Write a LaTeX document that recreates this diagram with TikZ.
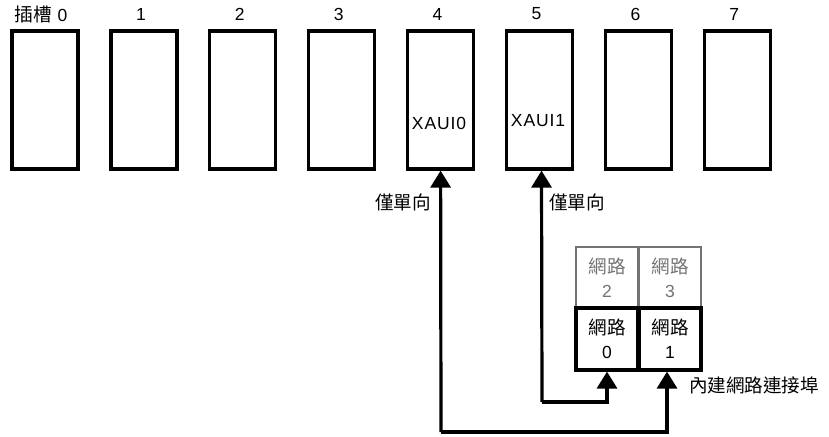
\documentclass[tikz,border=0pt]{standalone}
\usepackage{fontspec}
\setmainfont{Liberation Sans}[LetterSpace=5]
\newfontfamily\cjk[Scale=1.06]{Noto Sans CJK TC}
\usetikzlibrary{arrows.meta}
\begin{document}
\begin{tikzpicture}[x=1pt,y=-1pt,
  every node/.style={font=\fontsize{17.5}{24}\selectfont, inner sep=0pt},
  slotbox/.style={draw, line width=3.2pt, minimum width=66pt, minimum height=138pt},
  graycell/.style={draw=black!55, line width=2.2pt, text=black!55, minimum width=62pt, minimum height=61pt, align=center},
  blackcell/.style={draw, line width=3.2pt, minimum width=62pt, minimum height=62pt, align=center},
  arr/.style={line width=3.2pt, -{Triangle[width=20pt,length=17pt]}}]
\useasboundingbox (0,0) rectangle (829,436);
% slots
\foreach \i in {0,...,7} {
  \node[slotbox] (slot\i) at ({45+98.9*\i},100) {};
}
\node (l0) at (41,14) {{\cjk 插槽} 0};
\foreach \i in {1,...,7} {
  \node (l\i) at ({42+98.9*\i},14) {\i};
}
\node (x0) at (439,123) {XAUI0};
\node (x1) at (538,121) {XAUI1};
% network port block
\node[graycell] (n2) at (607,277.5) {{\cjk 網路}\\2};
\node[graycell] (n3) at (670,277.5) {{\cjk 網路}\\3};
\node[blackcell] (n0) at (607,339) {{\cjk 網路}\\0};
\node[blackcell] (n1) at (670,339) {{\cjk 網路}\\1};
% labels
\node (u0) at (403,202) {\cjk 僅單向};
\node (u1) at (577,202) {\cjk 僅單向};
\node (port) at (754,385) {\cjk 內建網路連接埠};
% connectors
\coordinate (c1) at (441,432);
\coordinate (c2) at (667,432);
\coordinate (c3) at (542,402);
\coordinate (c4) at (607,402);
\draw[arr] (c1) -- (slot4.south);
\draw[arr] (c1) -- (c2) -- ([xshift=-3pt]n1.south);
\draw[arr] (c3) -- ([xshift=2pt]slot5.south);
\draw[arr] (c3) -- (c4) -- (n0.south);
\end{tikzpicture}
\end{document}
